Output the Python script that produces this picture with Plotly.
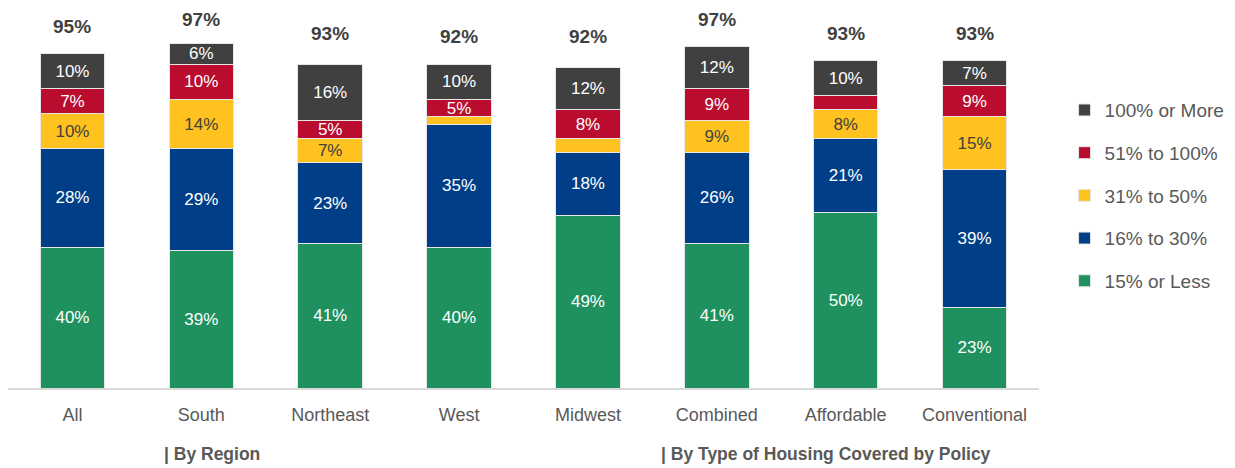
import plotly.graph_objects as go

categories = ["All", "South", "Northeast", "West", "Midwest", "Combined", "Affordable", "Conventional"]
series_names = ["15% or Less", "16% to 30%", "31% to 50%", "51% to 100%", "100% or More"]
less15 = [40, 39, 41, 40, 49, 41, 50, 23]
p16_30 = [28, 29, 23, 35, 18, 26, 21, 39]
p31_50 = [10, 14, 7, 2, 4, 9, 8, 15]
p51_100 = [7, 10, 5, 5, 8, 9, 4, 9]
more100 = [10, 6, 16, 10, 12, 12, 10, 7]
totals = [95, 97, 93, 92, 92, 97, 93, 93]
group_labels = ["| By Region", "| By Type of Housing Covered by Policy"]
group_positions = [1.08, 5.85]

colors = ["#1E915F", "#003F87", "#FFC21F", "#BA0C2F", "#404041"]
text_colors = ["white", "white", "#404040", "white", "white"]
series_vals = [less15, p16_30, p31_50, p51_100, more100]

FONT = "Liberation Sans Narrow, Arial Narrow, Liberation Sans, Arial, sans-serif"

fig = go.Figure()
n = len(series_names)
for i, (name, vals, col, tcol) in enumerate(zip(series_names, series_vals, colors, text_colors)):
    fig.add_trace(go.Bar(
        x=categories, y=vals, name=name, legendgroup=name, legendrank=n - i,
        marker=dict(color=col, line=dict(color="#e6e6e6", width=1)),
        text=[f"{v}%" if v >= 5 else "" for v in vals],
        textposition="inside", insidetextanchor="middle",
        textfont=dict(color=tcol, size=17, family=FONT),
        constraintext="none",
        hoverinfo="skip",
    ))

for c, t in zip(categories, totals):
    fig.add_annotation(x=c, y=t, text=f"<b>{t}%</b>", showarrow=False,
                       yanchor="bottom", yshift=15,
                       font=dict(size=19, color="#404040", family=FONT))

for gx, gl in zip(group_positions, group_labels):
    fig.add_annotation(x=gx, y=0, yref="paper", text=f"<b>{gl}</b>", showarrow=False,
                       yanchor="middle", yshift=-66,
                       font=dict(size=17.5, color="#595959", family=FONT))

fig.update_layout(
    width=1235, height=468,
    barmode="stack", bargap=0.5,
    plot_bgcolor="white", paper_bgcolor="white",
    margin=dict(l=8, r=196, t=10, b=80),
    uniformtext=dict(minsize=8, mode="show"),
    legend=dict(traceorder="grouped", xref="container", yref="container",
                x=0.862, xanchor="left", y=0.582, yanchor="middle",
                font=dict(size=19, color="#595959", family=FONT),
                itemwidth=30, tracegroupgap=15),
    font=dict(family=FONT),
    showlegend=True,
)
fig.update_xaxes(showline=True, linecolor="#d9d9d9", linewidth=2,
                 tickfont=dict(size=18, color="#595959", family=FONT),
                 ticks="", ticklabelstandoff=9)
fig.update_yaxes(range=[0, 107.4], visible=False, showgrid=False)

fig.write_html("out.html", config={"displayModeBar": False},
               post_script="document.body.style.margin='0';")
